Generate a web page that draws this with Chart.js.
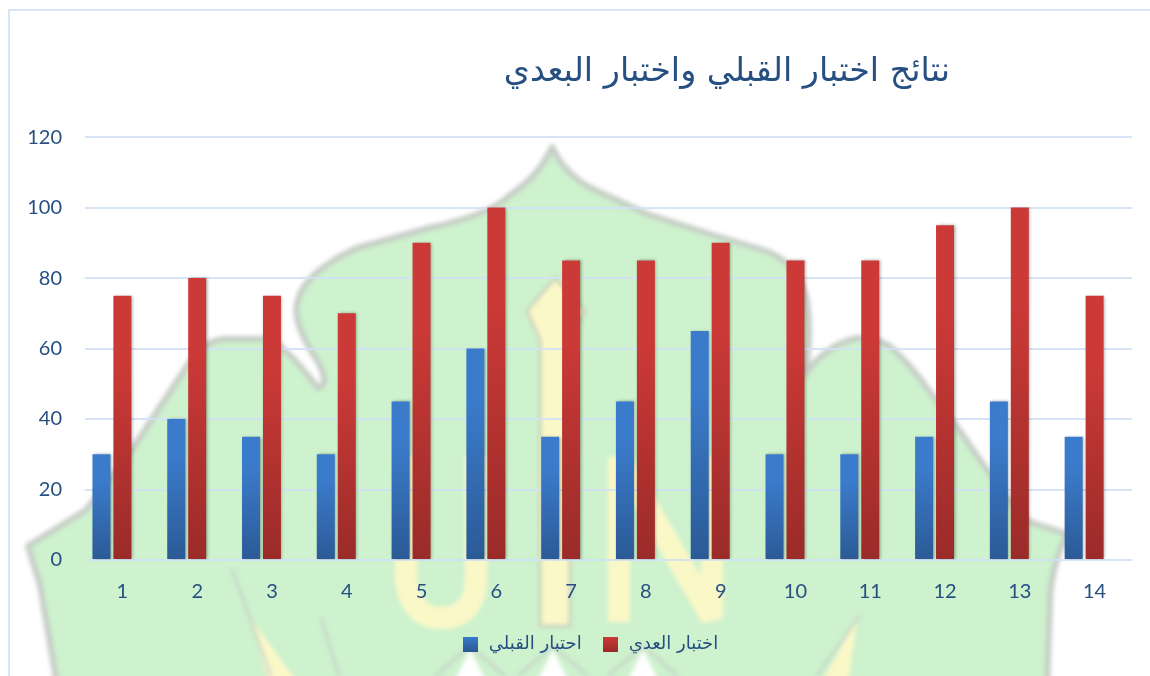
<!DOCTYPE html>
<html lang="ar">
<head>
<meta charset="utf-8">
<title>نتائج اختبار القبلي واختبار البعدي</title>
<script src="https://cdn.jsdelivr.net/npm/chart.js@4"></script>
<style>
  html, body { margin: 0; padding: 0; background: #fff; }
  #wrap { position: relative; width: 1150px; height: 676px; overflow: hidden; }
  #wrap svg, #wrap canvas { position: absolute; left: 0; top: 0; }
</style>
</head>
<body>
<div id="wrap">
  <!-- faded emblem behind the chart, decoration only -->
  <svg width="1150" height="676" viewBox="0 0 1150 676">
    <defs><filter id="soft"><feGaussianBlur stdDeviation="2.2"/></filter></defs>
    <g filter="url(#soft)">
      <path fill="#cdf2cd" stroke="#c6cdc6" stroke-width="6" stroke-linejoin="round"
        d="M58 690 L40 585 L28 546 L86 510 L129 454 L189 363 Q205 340 225 339 L268 339 Q285 345 318 388
           Q330 385 318 362 Q290 320 298 300 Q305 272 357 248 L429 228 Q490 215 510 195 Q540 175 552 147
           Q565 175 593 189 L647 214 L713 235 L763 250 Q800 262 807 302 Q812 335 805 375
           Q825 345 857 338 Q880 338 893 349 Q915 370 927 388 L957 427 L990 474 Q1010 505 1030 522 L1067 534
           Q1050 570 1050 603 L1047 690 Z"/>
      <!-- U -->
      <path fill="none" stroke="#fbf8c8" stroke-width="22" d="M406 456 L406 575 Q408 618 442 618 Q476 618 476 575 L476 456"/>
      <!-- minaret -->
      <path fill="#fbf8c8" stroke="#c9cdbb" stroke-width="3" d="M555 278 L585 311 L572 335 L570 340 L570 626 L540 626 L540 340 L538 335 L527 311 Z"/>
      <!-- N -->
      <path fill="none" stroke="#fbf8c8" stroke-width="22" stroke-linejoin="bevel" d="M619 622 L619 458 L712 618 L712 456"/>
      <!-- pointed shapes at the bottom -->
      <path fill="#fbf8c8" d="M250 618 L303 690 L271 690 Z"/>
      <path fill="#fbf8c8" d="M857 620 L817 690 L847 690 Z"/>
      <path fill="#fff" d="M470 650 L450 690 L490 690 Z"/>
      <path fill="#fff" d="M553 650 L533 690 L573 690 Z"/>
      <path fill="#fff" d="M643 650 L623 690 L663 690 Z"/>
      <path fill="none" stroke="#c6cdc6" stroke-width="3" opacity="0.8" d="M232 570 L250 618 L271 676 M321 618 L339 676 M860 615 L817 676 M435 676 L470 646 L505 676 M518 676 L553 646 L588 676 M608 676 L643 646 L678 676"/>
    </g>
    <path fill="none" stroke="#d8e5f6" stroke-width="2" d="M9 676 L9 10 L1150 10"/>
  </svg>
  <canvas id="chart" width="1150" height="676"></canvas>
</div>
<script>
const categories = ['1','2','3','4','5','6','7','8','9','10','11','12','13','14'];
const preTest = [30,40,35,30,45,60,35,45,65,30,30,35,45,35];
const postTest = [75,80,75,70,90,100,85,85,90,85,85,95,100,75];
const emptySeries = categories.map(() => null); // third, empty series: keeps the pair left of the label
const titleText = 'نتائج اختبار القبلي واختبار البعدي';
const preLabel = 'احتبار القبلي';
const postLabel = 'اختبار العدي';

const textColor = '#264f82';
const gridColor = 'rgba(210,225,245,0.9)';
const blueStops = ['#3b7bcb', '#2b5a96'];
const redStops = ['#cc3a37', '#9a2b29'];

// each bar gets its own top-to-bottom gradient
function barFill(stops) {
  return ctx => {
    const y = ctx.chart.scales.y;
    if (!y || ctx.raw == null) return stops[0];
    const g = ctx.chart.ctx.createLinearGradient(0, y.getPixelForValue(ctx.raw), 0, y.getPixelForValue(0));
    g.addColorStop(0, stops[0]);
    g.addColorStop(0.25, stops[0]);
    g.addColorStop(1, stops[1]);
    return g;
  };
}

function swatch(stops) {
  const c = document.createElement('canvas');
  c.width = 15; c.height = 15;
  const x = c.getContext('2d');
  const g = x.createLinearGradient(0, 0, 0, 15);
  g.addColorStop(0, stops[0]);
  g.addColorStop(1, stops[1]);
  x.fillStyle = g;
  x.fillRect(0, 0, 15, 15);
  return c;
}

const barShadow = {
  id: 'barShadow',
  beforeDatasetsDraw(chart) {
    const c = chart.ctx;
    c.save();
    c.shadowColor = 'rgba(0,0,0,0.3)';
    c.shadowBlur = 3;
    c.shadowOffsetX = 1.5;
  },
  afterDatasetsDraw(chart) { chart.ctx.restore(); }
};

// title and legend sit right of the middle in the reference
const blockShift = {
  id: 'blockShift',
  afterLayout(chart) {
    chart.titleBlock.left += 161;
    chart.titleBlock.right += 161;
    chart.legend.left += 24;
    chart.legend.right += 24;
  }
};

new Chart(document.getElementById('chart'), {
  type: 'bar',
  data: {
    labels: categories,
    datasets: [
      { label: preLabel, data: preTest, backgroundColor: barFill(blueStops) },
      { label: postLabel, data: postTest, backgroundColor: barFill(redStops) },
      { label: '', data: emptySeries }
    ]
  },
  plugins: [barShadow, blockShift],
  options: {
    responsive: false,
    animation: false,
    categoryPercentage: 0.84,
    barPercentage: 0.86,
    layout: { padding: { top: 0, right: 18, bottom: 13, left: 0 } },
    scales: {
      x: {
        afterFit: s => { s.height = 55; },
        grid: { display: false },
        border: { display: false },
        ticks: { color: textColor, font: { family: 'Lato', size: 20 }, padding: 12, maxRotation: 0 }
      },
      y: {
        min: 0,
        max: 120,
        afterFit: s => { s.width = 85; },
        grid: { color: gridColor, lineWidth: 2, drawTicks: false },
        border: { display: false },
        ticks: { stepSize: 20, color: textColor, font: { family: 'Lato', size: 20 }, padding: 23 }
      }
    },
    plugins: {
      title: {
        display: true,
        text: titleText,
        color: textColor,
        font: { family: '"DejaVu Sans"', size: 33.4, weight: 'normal' },
        padding: { top: 52, bottom: 45 }
      },
      legend: {
        position: 'bottom',
        labels: {
          color: textColor,
          font: { family: '"DejaVu Sans"', size: 18 },
          usePointStyle: true,
          boxHeight: 15,
          padding: 20,
          generateLabels: () => [
            { text: preLabel, pointStyle: swatch(blueStops), fontColor: textColor, lineWidth: 0, strokeStyle: 'transparent', datasetIndex: 0 },
            { text: postLabel, pointStyle: swatch(redStops), fontColor: textColor, lineWidth: 0, strokeStyle: 'transparent', datasetIndex: 1 }
          ]
        }
      },
      tooltip: { enabled: false }
    }
  }
});
</script>
</body>
</html>
